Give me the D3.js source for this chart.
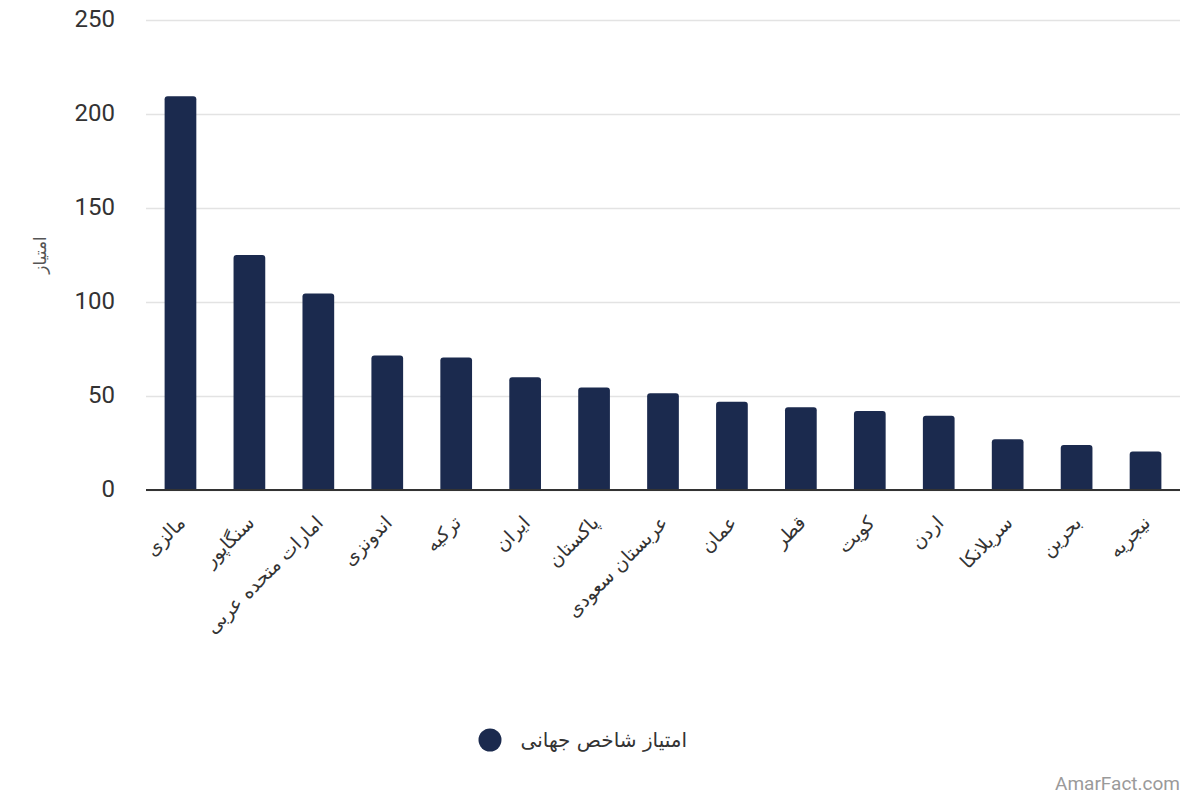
<!DOCTYPE html>
<html>
<head>
<meta charset="utf-8">
<script src="https://cdn.jsdelivr.net/npm/d3@7"></script>
<style>
  body { margin: 0; background: #fff; }
  svg { font-family: Roboto, "Noto Sans", sans-serif; }
  .fa { font-family: "DejaVu Sans", "Noto Sans", sans-serif; }
</style>
</head>
<body>
<div id="chart"></div>
<script>
// data
const countries = ["مالزی", "سنگاپور", "امارات متحده عربی", "اندونزی", "ترکیه", "ایران", "پاکستان",
  "عربستان سعودی", "عمان", "قطر", "کویت", "اردن", "سریلانکا", "بحرین", "نیجریه"]
const scores = [209.5, 125, 104.5, 71.5, 70.5, 60, 54.5, 51.5, 47, 44, 42, 39.5, 27, 24, 20.5]
const yTicks = [0, 50, 100, 150, 200, 250]
const seriesName = "امتیاز شاخص جهانی"
const yTitle = "امتیاز"

const width = 1200, height = 800
const margin = {left: 146, right: 20, top: 20, bottom: 310}
const barColor = "#1b2a4e"

const svg = d3.select('#chart').append('svg')
  .attr('width', width).attr('height', height)

const x = d3.scaleBand().domain(countries)
  .range([margin.left, width - margin.right])
  .paddingInner(0.54).paddingOuter(0.27)
const y = d3.scaleLinear().domain([0, 250]).range([490, 20])

// grid + y labels
const yAxis = svg.append('g')
  .attr('transform', `translate(${margin.left},0)`)
  .call(d3.axisLeft(y).tickValues(yTicks).tickSize(-(width - margin.right - margin.left)).tickPadding(31))
yAxis.select('.domain').remove()
yAxis.selectAll('.tick line').attr('stroke', '#e3e3e3').attr('stroke-width', 1.3)
yAxis.selectAll('.tick text').attr('fill', '#333').attr('font-size', 24)
  .attr('font-family', 'Roboto, sans-serif')
  .attr('dy', '0.28em')

svg.append('text')
  .attr('class', 'fa')
  .attr('transform', `translate(46, ${y(125)}) rotate(-90)`)
  .attr('text-anchor', 'middle')
  .attr('fill', '#555').attr('font-size', 17)
  .text(yTitle)

// bars with rounded tops
const r = 3
const barPath = (d, i) => {
  const x0 = x(countries[i]), w = x.bandwidth(), y0 = y(d), yb = y(0)
  return `M${x0},${yb}V${y0 + r}Q${x0},${y0} ${x0 + r},${y0}H${x0 + w - r}Q${x0 + w},${y0} ${x0 + w},${y0 + r}V${yb}Z`
}
svg.append('g').selectAll('path')
  .data(scores)
  .join('path')
  .attr('d', barPath)
  .attr('fill', barColor)

// baseline
svg.append('line')
  .attr('x1', margin.left).attr('x2', width - margin.right)
  .attr('y1', y(0)).attr('y2', y(0))
  .attr('stroke', '#333').attr('stroke-width', 2)

// category labels
svg.append('g').selectAll('text')
  .data(countries)
  .join('text')
  .attr('class', 'fa')
  .attr('transform', d => `translate(${x(d) + x.bandwidth() / 2 + 6}, 524) rotate(-45)`)
  .attr('text-anchor', 'end')
  .attr('fill', '#333').attr('font-size', 19)
  .text(d => d)

// legend
svg.append('circle').attr('cx', 490).attr('cy', 740).attr('r', 11.5).attr('fill', barColor)
svg.append('text')
  .attr('class', 'fa')
  .attr('x', 687).attr('y', 747)
  .attr('text-anchor', 'end')
  .attr('fill', '#333').attr('font-size', 20)
  .text(seriesName)

// watermark
svg.append('text')
  .attr('x', 1180).attr('y', 790)
  .attr('text-anchor', 'end')
  .attr('fill', '#9a9a9a').attr('font-size', 19)
  .text('AmarFact.com')
</script>
</body>
</html>
